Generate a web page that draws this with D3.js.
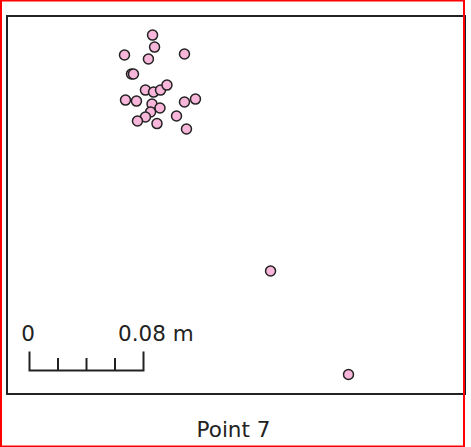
<!DOCTYPE html>
<html>
<head>
<meta charset="utf-8">
<script src="https://cdn.jsdelivr.net/npm/d3@7"></script>
<style>
  html, body { margin: 0; padding: 0; background: #fff; }
  svg { display: block; }
  text { font-family: "DejaVu Sans", sans-serif; fill: #222; }
</style>
</head>
<body>
<svg id="chart" width="471" height="447"></svg>
<script>
// Point positions in metres (easting / northing within the map frame)
const pointX = [0.1018, 0.1032, 0.0821, 0.0989, 0.1242, 0.0870, 0.0884, 0.0968, 0.1025, 0.1074,
                0.1119, 0.0828, 0.0905, 0.1014, 0.1070, 0.1004, 0.0968, 0.0912, 0.1049, 0.1186,
                0.1242, 0.1319, 0.1256, 0.1846, 0.2393];
const pointY = [0.2519, 0.2435, 0.2379, 0.2351, 0.2386, 0.2246, 0.2246, 0.2133, 0.2119, 0.2133,
                0.2168, 0.2063, 0.2056, 0.2035, 0.2007, 0.1979, 0.1944, 0.1916, 0.1898, 0.1951,
                0.2049, 0.2070, 0.1860, 0.0863, 0.0137];
const extentX = [0, 0.3214];
const extentY = [0, 0.2653];
const scaleBarTicks = [0, 0.02, 0.04, 0.06, 0.08];
const scaleBarLabels = ["0", "0.08 m"];
const title = "Point 7";

const svg = d3.select("#chart");
const x = d3.scaleLinear().domain(extentX).range([7.5, 465.5]);
const y = d3.scaleLinear().domain(extentY).range([394, 16]);

// map frame
svg.append("rect")
  .attr("x", 7).attr("y", y(extentY[1]))
  .attr("width", 458)
  .attr("height", y(extentY[0]) - y(extentY[1]))
  .attr("fill", "none").attr("stroke", "#222").attr("stroke-width", 2);

// points
const pts = pointX.map((v, i) => ({x: v, y: pointY[i]}));
svg.append("g").selectAll("circle").data(pts).join("circle")
  .attr("cx", d => x(d.x)).attr("cy", d => y(d.y)).attr("r", 5)
  .attr("fill", "#f7b6da").attr("stroke", "#222").attr("stroke-width", 1.5);

// scale bar
const pxPerM = x(1) - x(0);
const bar = d3.scaleLinear().domain([0, 0.08]).range([29.5, 29.5 + 0.08 * pxPerM]);
const g = svg.append("g");
g.append("path")
  .attr("d", `M${bar(0)},351.5 V370.5 H${bar(0.08)} V351.5`)
  .attr("fill", "none").attr("stroke", "#222").attr("stroke-width", 2);
g.selectAll("line.tick").data(scaleBarTicks.slice(1, -1)).join("line")
  .attr("class", "tick")
  .attr("x1", d => bar(d)).attr("x2", d => bar(d))
  .attr("y1", 358).attr("y2", 370.5)
  .attr("stroke", "#222").attr("stroke-width", 2);
g.append("text").attr("x", bar(0) - 1.5).attr("y", 340.5)
  .attr("text-anchor", "middle").attr("font-size", 21.5).text(scaleBarLabels[0]);
g.append("text").attr("x", bar(0.08) - 25.5).attr("y", 340.5)
  .attr("text-anchor", "start").attr("font-size", 21.5).text(scaleBarLabels[1]);

// title
svg.append("text").attr("x", 233.5).attr("y", 437)
  .attr("text-anchor", "middle").attr("font-size", 21.5).text(title);

// outer red border
svg.append("rect").attr("x", 1).attr("y", 0.5).attr("width", 463).attr("height", 446)
  .attr("fill", "none").attr("stroke", "#ff0000").attr("stroke-width", 2);
</script>
</body>
</html>
